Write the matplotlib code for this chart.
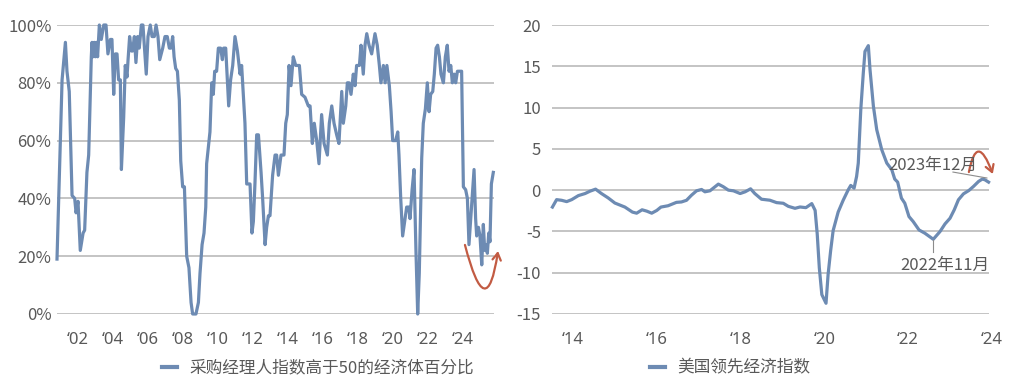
import matplotlib
matplotlib.use("Agg")
import matplotlib.pyplot as plt
from matplotlib.lines import Line2D
from matplotlib.patches import FancyArrowPatch
from matplotlib.path import Path

plt.rcParams['font.family'] = ['Noto Sans CJK SC', 'DejaVu Sans']
plt.rcParams['font.weight'] = 'light'

# ---------------- data ----------------
# Left: share of economies with PMI above 50 (%), by fractional year
L_T = [2000.80, 2001.09, 2001.28, 2001.37, 2001.50, 2001.66, 2001.81, 2001.89, 2002.00, 2002.13,
       2002.29, 2002.38, 2002.51, 2002.61, 2002.76, 2002.80, 2002.86, 2002.93, 2002.99, 2003.05,
       2003.12, 2003.22, 2003.33, 2003.47, 2003.60, 2003.71, 2003.85, 2003.94, 2004.04, 2004.13,
       2004.23, 2004.32, 2004.42, 2004.48, 2004.61, 2004.70, 2004.80, 2004.86, 2004.95, 2005.05,
       2005.12, 2005.22, 2005.31, 2005.41, 2005.50, 2005.62, 2005.71, 2005.81, 2005.90, 2006.00,
       2006.13, 2006.23, 2006.36, 2006.46, 2006.57, 2006.67, 2006.84, 2006.97, 2007.10, 2007.22,
       2007.31, 2007.41, 2007.49, 2007.58, 2007.68, 2007.79, 2007.87, 2007.98, 2008.08, 2008.21,
       2008.34, 2008.46, 2008.55, 2008.74, 2008.88, 2008.97, 2009.09, 2009.20, 2009.30, 2009.35,
       2009.54, 2009.64, 2009.73, 2009.81, 2009.92, 2010.02, 2010.15, 2010.25, 2010.32, 2010.44,
       2010.61, 2010.72, 2010.84, 2010.97, 2011.11, 2011.26, 2011.35, 2011.54, 2011.64, 2011.83,
       2011.94, 2012.02, 2012.11, 2012.21, 2012.31, 2012.46, 2012.55, 2012.69, 2012.78, 2012.88,
       2012.97, 2013.12, 2013.26, 2013.35, 2013.45, 2013.60, 2013.77, 2013.87, 2013.96, 2014.06,
       2014.17, 2014.30, 2014.44, 2014.65, 2014.78, 2014.97, 2015.16, 2015.26, 2015.39, 2015.50,
       2015.64, 2015.77, 2015.92, 2016.06, 2016.25, 2016.36, 2016.50, 2016.63, 2016.78, 2016.91,
       2017.07, 2017.16, 2017.30, 2017.39, 2017.49, 2017.60, 2017.73, 2017.83, 2017.92, 2018.08,
       2018.17, 2018.30, 2018.40, 2018.50, 2018.63, 2018.78, 2018.97, 2019.10, 2019.22, 2019.31,
       2019.45, 2019.55, 2019.65, 2019.79, 2019.89, 2019.98, 2020.15, 2020.27, 2020.34, 2020.44,
       2020.55, 2020.69, 2020.78, 2020.90, 2020.97, 2021.09, 2021.20, 2021.31, 2021.41, 2021.50,
       2021.64, 2021.73, 2021.85, 2021.96, 2022.06, 2022.15, 2022.27, 2022.36, 2022.46, 2022.55,
       2022.65, 2022.74, 2022.88, 2022.99, 2023.10, 2023.20, 2023.30, 2023.39, 2023.49, 2023.58,
       2023.68, 2023.83, 2023.92, 2024.02, 2024.15, 2024.25, 2024.34, 2024.44, 2024.55, 2024.63,
       2024.72, 2024.78, 2024.88, 2024.97, 2025.07, 2025.16, 2025.24, 2025.31, 2025.39, 2025.47,
       2025.54, 2025.62, 2025.73]
L_V = [19, 81, 94, 84, 77, 41, 40, 35, 39, 22,
       28, 29, 49, 55, 89, 94, 89, 94, 89, 94,
       89, 100, 95, 100, 100, 90, 95, 95, 76, 90,
       90, 81, 81, 50, 68, 86, 82, 88, 96, 91,
       91, 96, 87, 96, 92, 100, 100, 91, 83, 96,
       100, 96, 96, 100, 96, 88, 92, 96, 96, 92,
       92, 96, 89, 85, 84, 74, 53, 44, 44, 20,
       16, 4, 0, 0, 4, 14, 24, 28, 37, 52,
       63, 80, 76, 84, 84, 92, 92, 88, 92, 92,
       72, 81, 86, 96, 91, 83, 86, 66, 45, 45,
       28, 32, 45, 62, 62, 49, 40, 24, 30, 34,
       34, 48, 55, 55, 48, 55, 55, 66, 69, 86,
       79, 89, 86, 86, 76, 75, 72, 72, 59, 66,
       60, 52, 69, 59, 55, 66, 72, 66, 62, 59,
       77, 66, 72, 80, 80, 76, 83, 79, 86, 86,
       93, 83, 93, 97, 93, 90, 97, 93, 86, 80,
       86, 80, 86, 79, 70, 60, 60, 63, 55, 40,
       27, 33, 37, 37, 33, 43, 50, 22, 0, 14,
       54, 66, 71, 80, 70, 76, 77, 83, 92, 93,
       89, 83, 80, 89, 93, 84, 86, 80, 83, 80,
       84, 84, 84, 44, 43, 40, 24, 33, 43, 50,
       33, 27, 30, 27, 17, 31, 22, 24, 21, 28,
       25, 45, 49]
L_TICKS = [2002, 2004, 2006, 2008, 2010, 2012, 2014, 2016, 2018, 2020, 2022, 2024]
L_TICKLABELS = ["\u201802", "\u201804", "\u201806", "\u201808", "\u201810", "\u201812",
                "\u201814", "\u201816", "\u201818", "\u201820", "\u201822", "\u201824"]
L_YTICKS = [0, 20, 40, 60, 80, 100]
L_LABEL = "采购经理人指数高于50的经济体百分比"

# Right: US leading economic index
R_T = [2013.51, 2013.61, 2013.73, 2013.85, 2013.97, 2014.13, 2014.29, 2014.41, 2014.54, 2014.68,
       2014.84, 2015.00, 2015.24, 2015.42, 2015.52, 2015.65, 2015.76, 2015.88, 2016.00, 2016.10,
       2016.27, 2016.47, 2016.59, 2016.71, 2016.83, 2016.95, 2017.07, 2017.15, 2017.27, 2017.47,
       2017.59, 2017.71, 2017.83, 2017.99, 2018.11, 2018.24, 2018.34, 2018.50, 2018.70, 2018.86,
       2019.02, 2019.14, 2019.30, 2019.42, 2019.56, 2019.70, 2019.78, 2019.83, 2019.88, 2019.94,
       2020.04, 2020.09, 2020.15, 2020.21, 2020.33, 2020.45, 2020.57, 2020.63, 2020.71, 2020.77,
       2020.81, 2020.87, 2020.93, 2020.97, 2021.05, 2021.09, 2021.17, 2021.25, 2021.37, 2021.49,
       2021.61, 2021.68, 2021.75, 2021.84, 2021.92, 2022.02, 2022.12, 2022.26, 2022.40, 2022.60,
       2022.76, 2022.88, 2023.00, 2023.10, 2023.20, 2023.32, 2023.45, 2023.56, 2023.68, 2023.77,
       2023.83, 2023.92]
R_V = [-2.05, -1.15, -1.23, -1.39, -1.15, -0.66, -0.41, -0.12, 0.12, -0.41,
       -0.94, -1.56, -2.05, -2.66, -2.79, -2.38, -2.54, -2.79, -2.46, -2.05,
       -1.89, -1.48, -1.43, -1.23, -0.61, -0.08, 0.08, -0.20, -0.08, 0.73,
       0.41, 0.00, -0.08, -0.41, -0.20, 0.16, -0.41, -1.10, -1.22, -1.51,
       -1.59, -1.96, -2.20, -2.04, -2.12, -1.63, -2.45, -5.30, -9.40, -12.65,
       -13.70, -10.20, -7.35, -4.90, -2.65, -1.22, 0.04, 0.57, 0.24, 1.66,
       3.28, 9.76, 14.20, 16.80, 17.50, 14.60, 10.20, 7.33, 4.90, 3.28,
       2.47, 1.34, 0.97, -0.97, -1.58, -3.20, -3.80, -4.82, -5.22, -5.95,
       -5.02, -4.09, -3.40, -2.39, -1.17, -0.45, -0.04, 0.45, 1.05, 1.34,
       1.26, 0.97]
R_TICKS = [2014, 2016, 2018, 2020, 2022, 2024]
R_TICKLABELS = ["\u201814", "\u201816", "\u201818", "\u201820", "\u201822", "\u201824"]
R_YTICKS = [-15, -10, -5, 0, 5, 10, 15, 20]
R_LABEL = "美国领先经济指数"
ANN_HIGH = "2023年12月"
ANN_LOW = "2022年11月"

# ---------------- style ----------------
LINE = '#6D8BB3'
GRID = '#BFBFBF'
TXT = '#595959'
RED = '#C25B43'
FS = 12
XFONT = ['Noto Sans', 'DejaVu Sans']

fig = plt.figure(figsize=(10.22, 3.92), dpi=100)
fig.patch.set_facecolor('white')

axL = fig.add_axes([57/1022, 1-314/392, 437/1022, 289/392])
axR = fig.add_axes([552/1022, 1-314/392, 437/1022, 289/392])

def style(ax):
    for s in ax.spines.values():
        s.set_visible(False)
    ax.yaxis.grid(True, color=GRID, lw=1.3)
    ax.xaxis.grid(False)
    ax.set_axisbelow(True)
    ax.tick_params(length=0, labelsize=FS, labelcolor=TXT)

def curved_arrow(ax, p0, c, p1):
    path = Path([p0, c, p1], [Path.MOVETO, Path.CURVE3, Path.CURVE3])
    arr = FancyArrowPatch(path=path, arrowstyle="->,head_length=5,head_width=3",
                          color=RED, lw=1.6, transform=ax.transData, clip_on=False)
    ax.add_patch(arr)

# Left
style(axL)
axL.plot(L_T, L_V, color=LINE, lw=2.3, solid_joinstyle='round', clip_on=False)
axL.set_xlim(2000.8, 2025.77)
axL.set_ylim(0, 100)
axL.set_yticks(L_YTICKS)
axL.set_yticklabels([f"{v}%" for v in L_YTICKS])
axL.set_xticks(L_TICKS)
axL.set_xticklabels(L_TICKLABELS, family=XFONT)
axL.tick_params(axis='y', pad=4)
axL.tick_params(axis='x', pad=13)

curved_arrow(axL, (2024.11, 23.9), (2025.34, -4.8), (2026.0, 21.8))

# Right
style(axR)
axR.plot(R_T, R_V, color=LINE, lw=2.3, solid_joinstyle='round', clip_on=False)
axR.set_xlim(2013.5, 2023.93)
axR.set_ylim(-15, 20)
axR.set_yticks(R_YTICKS)
axR.set_yticklabels([str(v) for v in R_YTICKS])
axR.set_xticks(R_TICKS[:-1])
axR.set_xticklabels(R_TICKLABELS[:-1], family=XFONT)
axR.tick_params(axis='y', pad=8)
axR.tick_params(axis='x', pad=13)
# last tick label sits just beyond the plotting range
axR.annotate(R_TICKLABELS[-1], xy=(R_TICKS[-1], 0), xycoords=axR.get_xaxis_transform(),
             xytext=(0, -13), textcoords='offset points', ha='center', va='top',
             fontsize=FS, color=TXT, family=XFONT, annotation_clip=False)

axR.text(2022.59, 3.05, ANN_HIGH, ha='center', va='center', fontsize=FS, color=TXT)
axR.plot([2023.07, 2023.88], [2.19, 1.47], color='#8C8C8C', lw=0.8)
axR.text(2022.88, -9.07, ANN_LOW, ha='center', va='center', fontsize=FS, color=TXT)
axR.plot([2022.59, 2022.59], [-6.05, -7.5], color='#8C8C8C', lw=0.8)

curved_arrow(axR, (2023.45, 2.19), (2023.64, 7.16), (2024.02, 1.95))

# Legends
for (cx, lab) in [(318/1022, L_LABEL), (730/1022, R_LABEL)]:
    fig.legend(handles=[Line2D([], [], color=LINE, lw=3)], labels=[lab],
               loc='center', bbox_to_anchor=(cx, 1-368/392), frameon=False,
               handlelength=0.9, handletextpad=0.7, fontsize=FS, labelcolor=TXT)

fig.savefig('out.png', dpi=100)
